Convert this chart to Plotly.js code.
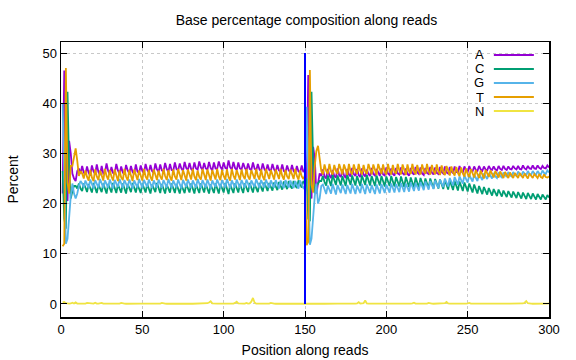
<!DOCTYPE html>
<html>
<head>
<meta charset="utf-8">
<script src="https://cdn.plot.ly/plotly-3.0.1.min.js"></script>
<style>html,body{margin:0;padding:0;background:#fff;}#chart{width:576px;height:360px;}</style>
</head>
<body>
<div id="chart"></div>
<script>
const seriesNames = ["A", "C", "G", "T", "N"];
const seriesColors = ["#9400d3", "#009e73", "#56b4e9", "#e69f00", "#f0e442"];

const valuesA = [
22,46.5,26,20.5,32.5,30,26,25,24.5,26.5,
27,26,27.5,26.2,25.8,27.4,26.1,25.6,27.6,26.4,
25.9,27.8,26.3,25.7,27.5,26.0,26.2,28.0,26.5,25.8,
27.3,26.1,26.0,27.9,26.6,25.9,27.4,26.2,25.8,27.7,
26.6,26.0,27.5,26.3,25.9,27.8,26.4,26.1,27.6,26.5,
26.0,27.9,26.7,26.2,27.7,26.5,26.1,28.0,26.8,26.3,
27.8,26.6,26.4,28.1,26.9,26.3,27.9,26.7,26.5,28.2,
26.9,26.6,28.0,27.0,26.5,28.3,27.1,26.7,28.1,26.9,
26.6,28.2,27.0,26.8,28.4,27.2,26.7,28.1,27.0,26.8,
28.3,27.1,26.6,28.2,27.0,26.9,28.4,27.3,26.8,28.2,
27.1,26.9,28.6,27.2,26.8,28.3,27.1,26.7,28.2,27.0,
26.8,28.1,27.1,26.6,28.0,26.9,26.7,28.2,27.0,26.6,
27.9,26.8,26.5,28.0,26.9,26.4,27.8,26.7,26.5,27.9,
26.8,26.3,27.7,26.6,26.4,27.8,26.5,26.2,27.6,26.6,
26.3,27.7,26.5,26.1,27.5,26.4,26.2,27.6,26.3,26.8,
24,45.6,25,21,31.3,29,22,24.5,26,25.5,
26.8,25.4,25.0,26.9,25.6,25.1,26.7,25.5,25.2,27.0,
25.7,25.3,26.8,25.6,25.1,26.9,25.8,25.4,27.1,25.9,
25.5,26.9,25.7,25.3,27.0,25.8,25.4,26.8,25.9,25.5,
27.1,25.9,25.6,26.9,26.0,25.5,27.0,25.8,25.6,27.2,
26.0,25.7,27.0,25.9,25.6,27.1,26.0,25.8,27.2,26.1,
25.7,27.0,25.9,25.6,27.1,26.1,25.8,27.3,26.2,25.9,
27.2,26.0,25.7,27.1,26.1,25.9,27.3,26.2,25.8,27.2,
26.1,25.9,27.3,26.3,26.0,27.4,26.2,26.0,27.3,26.4,
26.1,27.4,26.3,26.2,27.5,26.5,26.2,27.4,26.6,26.3,
27.5,26.6,26.4,27.4,26.7,26.5,27.5,26.8,26.5,27.4,
26.8,26.6,27.5,26.9,26.7,27.4,26.8,26.6,27.5,26.9,
26.7,27.5,26.9,26.7,27.4,26.9,26.8,27.5,27.0,26.8,
27.5,26.9,26.8,27.6,27.0,26.8,27.5,27.0,26.9,27.6,
27.0,26.9,27.6,27.1,26.9,27.5,27.1,27.0,27.6,27.2
];

const valuesC = [
26.5,17,15,42.3,27,21,22.5,23.5,23.5,23,
24,23,22.5,24.0,23.2,22.3,23.9,23.0,22.2,24.1,
23.1,22.1,23.8,22.9,22.3,24.0,23.0,22.0,23.9,23.1,
22.2,24.1,23.0,22.1,23.8,22.9,22.2,24.0,23.1,22.0,
23.9,23.0,22.3,24.1,23.1,22.2,23.8,22.9,22.1,24.0,
23.0,22.2,23.9,23.1,22.0,23.8,22.9,22.3,24.1,23.0,
22.1,23.9,22.9,22.0,23.8,23.0,22.2,24.0,23.1,22.1,
23.9,22.9,22.0,23.7,22.8,22.1,23.9,23.0,22.2,24.0,
23.0,22.0,23.8,22.9,22.1,24.0,23.1,22.2,23.9,22.9,
22.0,23.8,23.0,22.1,24.0,23.0,22.0,23.9,23.1,22.2,
24.1,23.0,21.9,23.8,22.9,22.1,24.0,23.1,22.2,23.9,
23.0,22.1,24.0,23.1,22.3,24.1,23.0,22.2,23.9,23.1,
22.3,24.1,23.2,22.4,24.2,23.1,22.5,24.1,23.3,22.6,
24.2,23.3,22.7,24.3,23.4,22.8,24.4,23.5,22.9,24.5,
23.5,23.0,24.5,23.6,23.1,24.6,23.7,23.2,24.5,24.0,
25,17,16.5,42.3,28,22,23.5,24,24.5,24.5,
25.5,24.3,23.6,25.6,24.4,23.5,25.7,24.5,23.7,25.6,
24.6,23.6,25.5,24.4,23.5,25.7,24.6,23.7,25.6,24.5,
23.6,25.5,24.5,23.5,25.6,24.6,23.7,25.7,24.5,23.6,
25.5,24.4,23.5,25.6,24.5,23.6,25.5,24.4,23.4,25.4,
24.4,23.5,25.5,24.4,23.4,25.3,24.3,23.4,25.4,24.3,
23.3,25.3,24.2,23.3,25.2,24.3,23.2,25.2,24.1,23.2,
25.1,24.1,23.2,25.0,24.0,23.1,25.0,24.0,23.0,24.9,
23.9,23.0,24.8,23.8,22.9,24.7,23.7,22.8,24.6,23.6,
22.7,24.5,23.5,22.6,24.4,23.4,22.5,24.2,23.2,22.4,
24.0,23.0,22.2,23.8,22.8,22.0,23.5,22.6,21.9,23.3,
22.5,21.8,23.1,22.3,21.6,22.9,22.2,21.5,22.8,22.0,
21.4,22.6,21.9,21.3,22.5,21.8,21.2,22.4,21.7,21.1,
22.3,21.6,21.0,22.2,21.5,20.9,22.1,21.4,20.9,22.0,
21.4,20.8,21.9,21.3,20.8,21.8,21.2,20.8,21.7,21.2
];

const valuesG = [
40,24.5,12,13,18.5,21.5,24,22,21,22,
23.5,24.5,24,23.2,24.6,23.9,23.1,24.8,24.0,23.0,
24.7,23.8,23.2,24.9,24.0,23.1,24.6,23.9,23.2,24.8,
23.9,23.0,24.7,24.0,23.3,24.9,23.8,23.1,24.7,24.0,
23.2,24.8,23.9,23.0,24.6,23.8,23.2,24.9,24.0,23.1,
24.7,23.9,23.3,24.8,23.9,23.1,24.6,23.8,23.2,24.8,
24.0,23.1,24.7,23.9,23.2,24.9,24.0,23.1,24.6,23.8,
23.2,24.8,23.9,23.0,24.7,24.0,23.3,24.8,23.9,23.1,
24.6,23.8,23.2,24.9,24.0,23.1,24.7,23.9,23.2,24.8,
23.9,23.0,24.6,23.9,23.3,24.8,24.0,23.1,24.7,23.8,
23.2,24.9,23.9,23.1,24.6,23.8,23.2,24.8,24.0,23.1,
24.7,23.9,23.2,24.8,23.9,23.1,24.6,23.9,23.3,24.9,
24.0,23.1,24.7,23.8,23.2,24.8,23.9,23.1,24.6,23.8,
23.2,24.7,23.9,23.0,24.6,23.8,23.1,24.7,23.9,23.2,
24.6,23.7,23.1,24.5,23.8,23.0,24.6,23.7,23.1,23.5,
39.3,25,11.8,13,18.5,21.5,24,20,21,23.5,
23.8,22.6,21.9,23.6,22.8,22.0,23.9,22.7,21.8,23.7,
22.9,22.1,23.8,22.6,21.9,23.7,22.8,22.0,23.9,22.7,
21.9,23.6,22.8,22.1,23.9,22.7,21.9,23.8,22.9,22.1,
23.7,22.6,21.9,23.8,22.8,22.0,23.9,22.8,22.1,23.8,
22.9,22.2,24.0,22.9,22.2,23.9,23.0,22.3,24.1,23.0,
22.3,24.0,23.1,22.4,24.2,23.2,22.5,24.1,23.3,22.6,
24.3,23.3,22.7,24.4,23.5,22.8,24.5,23.6,22.9,24.6,
23.7,23.1,24.8,23.9,23.3,25.0,24.0,23.4,25.1,24.2,
23.6,25.3,24.4,23.8,25.4,24.6,24.0,25.6,24.8,24.2,
25.7,24.9,24.4,25.8,25.0,24.5,25.9,25.2,24.7,26.0,
25.3,24.9,26.1,25.4,25.0,26.1,25.4,25.1,26.2,25.5,
25.2,26.2,25.6,25.3,26.3,25.6,25.4,26.3,25.7,25.5,
26.4,25.8,25.5,26.4,25.9,25.6,26.5,25.9,25.7,26.5,
26.0,25.7,26.5,26.0,25.8,26.6,26.1,25.9,26.6,26.2
];

const valuesT = [
11.5,12,47,24.2,22,27.5,27.5,29.5,31,28.5,
25.5,26.5,26,25.0,26.6,25.3,24.6,26.7,25.2,24.5,
26.8,25.4,24.7,26.6,25.3,24.6,26.9,25.5,24.8,26.7,
25.4,24.6,26.8,25.3,24.5,26.6,25.2,24.7,26.9,25.4,
24.6,26.7,25.3,24.5,26.8,25.5,24.7,26.6,25.3,24.6,
26.9,25.4,24.8,26.7,25.3,24.6,26.8,25.5,24.7,26.6,
25.4,24.8,26.9,25.5,24.7,26.7,25.3,24.6,26.8,25.4,
24.8,26.9,25.5,24.7,26.7,25.4,24.6,26.8,25.5,24.8,
26.9,25.4,24.7,26.6,25.3,24.8,26.9,25.5,24.7,26.8,
25.4,24.6,26.7,25.5,24.8,26.9,25.4,24.7,26.7,25.5,
24.8,26.8,25.3,24.6,26.9,25.6,24.8,26.7,25.4,24.7,
26.8,25.5,24.9,26.9,25.4,24.8,26.7,25.6,24.9,26.9,
25.5,24.8,26.8,25.4,24.7,26.9,25.6,24.9,26.7,25.5,
24.8,26.8,25.6,24.9,26.9,25.5,24.8,26.7,25.4,24.9,
26.8,25.6,24.9,26.9,25.5,24.8,26.6,25.4,24.9,25.7,
11.7,12.4,46.6,23.7,22.2,27.5,30.5,31.5,28.5,26.5,
25.8,27.8,26.5,25.9,27.9,26.4,25.8,27.7,26.5,25.9,
27.9,26.6,25.8,27.8,26.5,25.7,27.9,26.4,25.8,27.8,
26.6,25.9,27.9,26.5,25.8,27.7,26.4,25.9,27.9,26.6,
25.8,27.8,26.5,25.7,27.9,26.6,25.9,27.8,26.4,25.8,
27.9,26.5,25.8,27.7,26.4,25.9,27.9,26.6,25.8,27.8,
26.5,25.7,27.8,26.4,25.9,27.9,26.5,25.8,27.7,26.4,
25.8,27.8,26.6,25.9,27.9,26.4,25.8,27.7,26.5,25.8,
27.8,26.4,25.7,27.6,26.3,25.7,27.5,26.3,25.6,27.4,
26.2,25.6,27.3,26.1,25.5,27.2,26.0,25.4,27.0,25.9,
25.3,26.9,25.8,25.2,26.7,25.7,25.1,26.6,25.6,25.0,
26.7,25.8,25.3,26.6,25.7,25.2,26.5,25.7,25.2,26.4,
25.6,25.1,26.3,25.6,25.1,26.2,25.5,25.1,26.1,25.5,
25.1,26.1,25.5,25.1,26.0,25.4,25.0,26.0,25.4,25.1,
25.9,25.4,25.1,25.9,25.3,25.1,25.8,25.3,25.2,25.4
];

const valuesN = [
0.30,0.40,0.15,0.08,0.06,0.10,0.25,0.08,0.30,0.07,
0.05,0.06,0.05,0.07,0.08,0.20,0.18,0.06,0.05,0.07,
0.25,0.06,0.05,0.08,0.20,0.06,0.05,0.04,0.06,0.05,
0.05,0.06,0.04,0.05,0.07,0.08,0.20,0.06,0.05,0.04,
0.05,0.06,0.05,0.07,0.15,0.05,0.04,0.05,0.06,0.05,
0.04,0.05,0.06,0.05,0.04,0.05,0.06,0.05,0.04,0.07,
0.08,0.20,0.06,0.05,0.04,0.05,0.06,0.05,0.04,0.05,
0.06,0.05,0.04,0.05,0.06,0.05,0.05,0.04,0.06,0.05,
0.04,0.05,0.06,0.05,0.04,0.05,0.06,0.05,0.08,0.15,
0.30,0.55,0.12,0.05,0.04,0.05,0.06,0.05,0.04,0.05,
0.06,0.05,0.04,0.05,0.06,0.08,0.20,0.45,0.10,0.05,
0.04,0.06,0.08,0.20,0.06,0.10,0.45,1.20,0.30,0.06,
0.05,0.04,0.05,0.06,0.05,0.04,0.06,0.08,0.22,0.06,
0.05,0.04,0.05,0.06,0.05,0.04,0.05,0.06,0.05,0.04,
0.05,0.06,0.05,0.04,0.05,0.06,0.05,0.04,0.05,0.06,
0.08,0.06,0.05,0.04,0.05,0.06,0.05,0.04,0.05,0.06,
0.05,0.04,0.05,0.06,0.05,0.04,0.08,0.12,0.20,0.06,
0.05,0.04,0.05,0.06,0.05,0.04,0.05,0.06,0.05,0.04,
0.06,0.10,0.35,0.08,0.06,0.15,0.70,0.12,0.05,0.04,
0.05,0.06,0.05,0.04,0.05,0.06,0.05,0.04,0.05,0.06,
0.05,0.04,0.05,0.06,0.05,0.04,0.05,0.06,0.05,0.04,
0.05,0.06,0.05,0.04,0.08,0.12,0.25,0.07,0.05,0.04,
0.05,0.06,0.05,0.04,0.08,0.20,0.07,0.05,0.04,0.05,
0.06,0.05,0.04,0.05,0.08,0.15,0.40,0.10,0.05,0.04,
0.05,0.06,0.05,0.04,0.05,0.06,0.05,0.04,0.06,0.10,
0.20,0.07,0.05,0.04,0.05,0.06,0.05,0.04,0.05,0.06,
0.05,0.04,0.05,0.06,0.05,0.04,0.05,0.06,0.05,0.04,
0.05,0.06,0.05,0.04,0.05,0.06,0.05,0.04,0.05,0.06,
0.05,0.04,0.06,0.10,0.25,0.55,0.15,0.06,0.05,0.04,
0.05,0.06,0.05,0.04,0.05,0.08,0.20,0.06,0.05,0.10
];

// read boundary marker
const boundaryX = [150, 150];
const boundaryY = [0, 50];

const xTicks = [0, 50, 100, 150, 200, 250, 300];
const yTicks = [0, 10, 20, 30, 40, 50];

const positions = valuesA.map((_, i) => i + 1);
const allValues = [valuesA, valuesC, valuesG, valuesT, valuesN];

const FONT = "Liberation Sans, Arial, sans-serif";

const traces = allValues.map((vals, k) => ({
  x: positions,
  y: vals,
  type: "scatter",
  mode: "lines",
  name: seriesNames[k],
  line: {color: seriesColors[k], width: 1.8},
  showlegend: false,
  hoverinfo: "skip"
}));
traces.push({
  x: boundaryX, y: boundaryY, type: "scatter", mode: "lines",
  line: {color: "#0000ff", width: 2}, showlegend: false, hoverinfo: "skip"
});

// gnuplot-style legend: right-aligned label, then line sample
const legendTop = 0.953, legendStep = 0.051;
const annotations = seriesNames.map((n, k) => ({
  xref: "paper", yref: "paper",
  x: 0.869, y: legendTop - k * legendStep,
  xanchor: "right", yanchor: "middle",
  height: 13, borderpad: 0,
  text: n, showarrow: false,
  font: {family: FONT, size: 13, color: "#000000"}
}));
const shapes = seriesNames.map((n, k) => ({
  type: "line", xref: "paper", yref: "paper",
  x0: 0.887, x1: 0.969,
  y0: legendTop - k * legendStep, y1: legendTop - k * legendStep,
  line: {color: seriesColors[k], width: 2}
}));

const axisCommon = {
  ticks: "inside", ticklen: 6, tickwidth: 1, tickcolor: "#000",
  mirror: "allticks", showline: true, linecolor: "#000", linewidth: 1.5,
  showgrid: true, gridcolor: "#c8c8c8", griddash: "dot", gridwidth: 1,
  zeroline: false,
  tickfont: {family: FONT, size: 13, color: "#000"}
};

const layout = {
  width: 576, height: 360,
  margin: {l: 61, r: 27, t: 42, b: 43},
  paper_bgcolor: "#fff", plot_bgcolor: "#fff",
  title: {text: "Base percentage composition along reads", x: 0.532, xanchor: "center",
          y: 0.945, yanchor: "middle", yref: "container",
          font: {family: FONT, size: 14, color: "#000"}},
  xaxis: Object.assign({}, axisCommon, {
    range: [0, 300], tickmode: "array", tickvals: xTicks,
    title: {text: "Position along reads", standoff: 9, font: {family: FONT, size: 14, color: "#000"}}
  }),
  yaxis: Object.assign({}, axisCommon, {
    range: [-2.6, 52.2], tickmode: "array", tickvals: yTicks,
    title: {text: "Percent", standoff: 20, font: {family: FONT, size: 14, color: "#000"}}
  }),
  annotations: annotations,
  shapes: shapes
};

Plotly.newPlot("chart", traces, layout, {displayModeBar: false, staticPlot: true});
</script>
</body>
</html>
